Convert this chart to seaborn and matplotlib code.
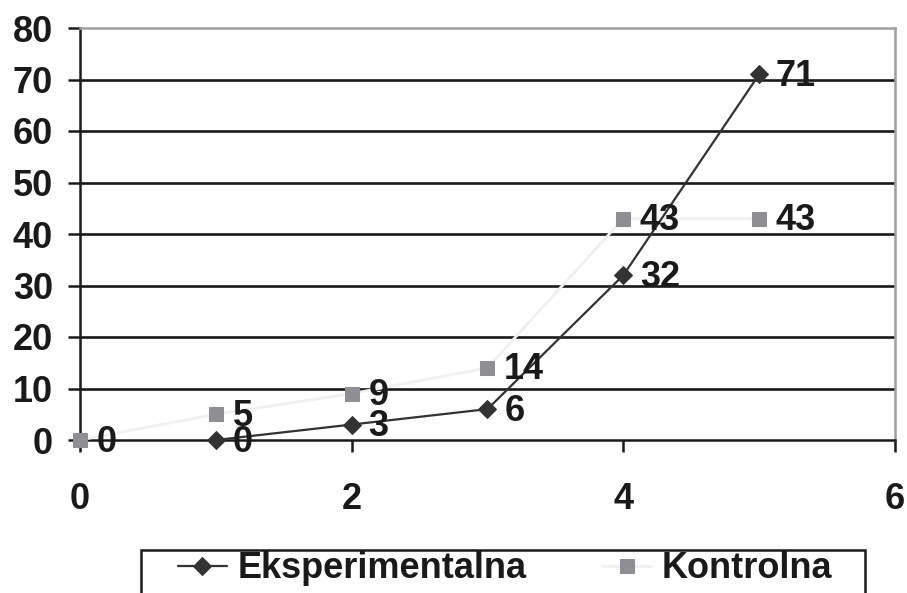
import matplotlib
matplotlib.use("Agg")
import matplotlib.pyplot as plt
from matplotlib.patches import Rectangle
import seaborn as sns
import pandas as pd

# Series values
exp_x = [1, 2, 3, 4, 5]
exp_y = [0, 3, 6, 32, 71]
kon_x = [0, 1, 2, 3, 4, 5]
kon_y = [0, 5, 9, 14, 43, 43]
series_names = ["Eksperimentalna", "Kontrolna"]
y_ticks = [0, 10, 20, 30, 40, 50, 60, 70, 80]
x_ticks = [0, 2, 4, 6]

sns.set_theme(style="white")
plt.rcParams["font.family"] = ["Liberation Sans", "DejaVu Sans"]
plt.rcParams["font.weight"] = "bold"

W, H = 907, 593
fig = plt.figure(figsize=(W / 100, H / 100), dpi=100)
ax = fig.add_axes([80 / W, 1 - 440 / H, 815 / W, 412 / H])

df_exp = pd.DataFrame({"x": exp_x, "y": exp_y})
df_kon = pd.DataFrame({"x": kon_x, "y": kon_y})

# horizontal grid
for yv in y_ticks[1:-1]:
    ax.axhline(yv, color="#1a1a1a", lw=1.9, zorder=1)

sns.lineplot(data=df_kon, x="x", y="y", ax=ax, color="#f0f0f0", lw=2,
             marker="s", markersize=9.5, markerfacecolor="#8f8f93",
             markeredgecolor="#8f8f93", label=series_names[1], zorder=3,
             clip_on=False)
sns.lineplot(data=df_exp, x="x", y="y", ax=ax, color="#333333", lw=1.6,
             marker="D", markersize=9, markerfacecolor="#333333",
             markeredgecolor="#333333", label=series_names[0], zorder=4,
             clip_on=False)

label_kw = dict(textcoords="offset points", fontsize=26, fontweight="bold",
                color="#1a1a1a", va="center", ha="left", zorder=5)
for xv, yv in zip(kon_x, kon_y):
    ax.annotate(str(yv), (xv, yv), xytext=(12, -1.5), **label_kw)
for xv, yv in zip(exp_x, exp_y):
    ax.annotate(str(yv), (xv, yv), xytext=(12, -1.5), **label_kw)

ax.set_xlim(0, 6)
ax.set_ylim(0, 80)
ax.set_xticks(x_ticks)
ax.set_yticks(y_ticks)
ax.set_xlabel("")
ax.set_ylabel("")
ax.tick_params(axis="both", labelsize=26, colors="#1a1a1a", length=8.5,
               width=1.8, direction="out", bottom=True, left=True)
ax.tick_params(axis="x", pad=22)
ax.tick_params(axis="y", pad=11)
for lab in ax.get_xticklabels() + ax.get_yticklabels():
    lab.set_fontweight("bold")

for side in ["left", "bottom"]:
    ax.spines[side].set_color("#1a1a1a")
    ax.spines[side].set_linewidth(1.8)
for side in ["top", "right"]:
    ax.spines[side].set_color("#a0a0a0")
    ax.spines[side].set_linewidth(1.8)

handles, labels = ax.get_legend_handles_labels()
order = [labels.index(n) for n in series_names]
ax.get_legend().remove()
leg = fig.legend([handles[i] for i in order], [labels[i] for i in order],
                 loc="center", bbox_to_anchor=(505 / W, 1 - 569 / H),
                 ncol=2, frameon=False, prop={"weight": "bold", "size": 26},
                 handlelength=1.35, handletextpad=0.3, columnspacing=2.1,
                 borderpad=0, borderaxespad=0)
for t in leg.get_texts():
    t.set_color("#1a1a1a")

# legend box, running past the lower edge of the figure
fig.patches.append(Rectangle((141 / W, -0.05), 724 / W, 0.05 + (H - 550) / H,
                             transform=fig.transFigure, fill=False,
                             edgecolor="#1a1a1a", lw=1.8, zorder=0))

fig.savefig("out.png", dpi=100)
